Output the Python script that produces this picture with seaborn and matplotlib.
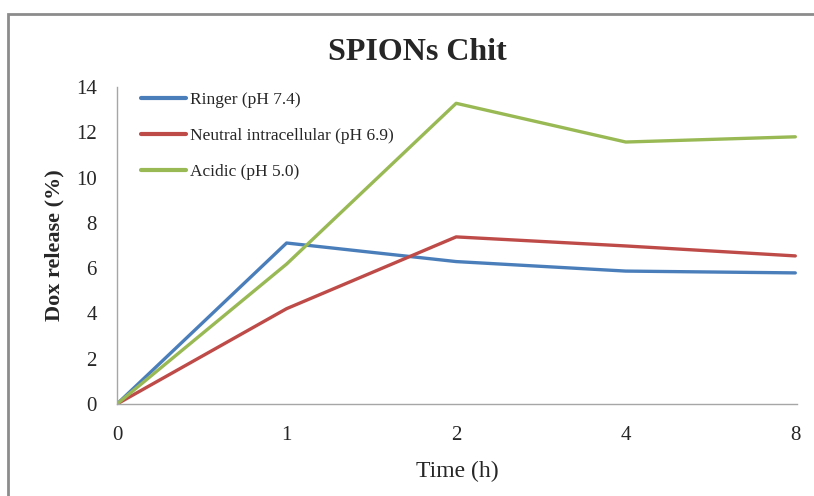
import matplotlib
matplotlib.use("Agg")
import matplotlib.pyplot as plt
import seaborn as sns
import pandas as pd
from matplotlib.patches import Rectangle
from matplotlib.lines import Line2D

time_labels = ["0", "1", "2", "4", "8"]
ringer = [0.0, 7.11, 6.29, 5.87, 5.79]
neutral = [0.0, 4.21, 7.38, 6.98, 6.54]
acidic = [0.0, 6.18, 13.28, 11.57, 11.8]
series_names = ["Ringer (pH 7.4)", "Neutral intracellular (pH 6.9)", "Acidic (pH 5.0)"]
colors = ["#4A7EBB", "#BE4B48", "#98B954"]

rows = []
for name, vals in zip(series_names, [ringer, neutral, acidic]):
    for i, v in enumerate(vals):
        rows.append({"pos": i, "value": v, "series": name})
df = pd.DataFrame(rows)

sns.set_theme(style="white")
plt.rcParams["font.family"] = ["Liberation Serif", "DejaVu Serif"]

fig = plt.figure(figsize=(8.14, 4.96), dpi=100)
ax = fig.add_axes([117/814, 1-404/496, (797-117)/814, (404-87)/496])

sns.lineplot(data=df, x="pos", y="value", hue="series", palette=colors,
             hue_order=series_names, linewidth=2.4, ax=ax, legend=False)

ax.set_xlim(0, 4.01)
ax.set_ylim(0, 14)
ax.set_xticks(range(len(time_labels)))
ax.set_xticklabels(time_labels, fontsize=15)
ax.set_yticks(range(0, 15, 2))
ax.set_yticklabels([str(v) for v in range(0, 15, 2)], fontsize=15)
ax.tick_params(axis="both", length=0)
ax.tick_params(axis="x", pad=15.5)
ax.tick_params(axis="y", pad=14.5)
for s in ["top", "right"]:
    ax.spines[s].set_visible(False)
for s in ["left", "bottom"]:
    ax.spines[s].set_color("#A6A6A6")
    ax.spines[s].set_linewidth(1.0)

ax.set_xlabel("Time (h)", fontsize=17, labelpad=12)
ax.set_ylabel("Dox release (%)", fontsize=16, fontweight="bold", labelpad=8)
fig.text(417/814, 1-52/496, "SPIONs Chit", fontsize=23, fontweight="bold",
         ha="center", va="center")

handles = [Line2D([0], [0], color=c, linewidth=3) for c in colors]
leg = ax.legend(handles, series_names, loc="upper left",
                bbox_to_anchor=(134/814, 1-85/496), bbox_transform=fig.transFigure,
                frameon=False, fontsize=12.5, handlelength=2.6, handletextpad=0.2,
                labelspacing=1.15, borderaxespad=0)

fig.patches.append(Rectangle((8/814, -0.1), 1.2, 1-13.5/496+0.1, transform=fig.transFigure,
                             fill=False, edgecolor="#8C8C8C", linewidth=2))

fig.savefig("out.png", dpi=100)
